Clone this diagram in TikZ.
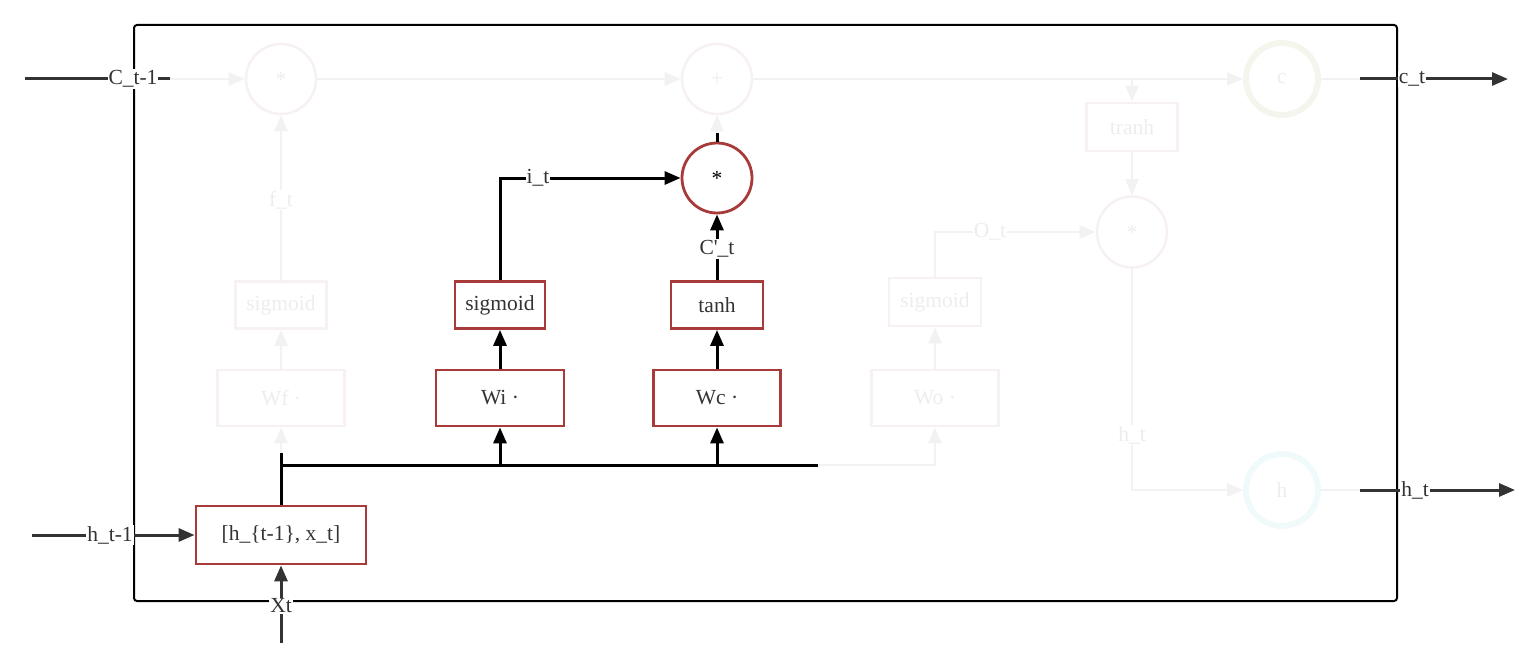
\documentclass[tikz,border=0pt]{standalone}
\usepackage{fontspec}
\setmainfont{Liberation Serif}[Ligatures=TeXOff]
\usetikzlibrary{arrows.meta,shapes.geometric}
\definecolor{boxred}{HTML}{A83A3A}
\definecolor{txt}{HTML}{333333}
\definecolor{dark}{HTML}{333333}
\definecolor{fade}{HTML}{F2F2F2}
\definecolor{fadep}{HTML}{F7F1F1}
\definecolor{fadetxt}{HTML}{EDEDED}
\definecolor{cfade}{HTML}{F4F6EE}
\definecolor{hfade}{HTML}{F1FAFA}
\tikzset{
  base/.style={font=\fontsize{21.5}{25}\selectfont, inner sep=0pt},
  rbox/.style={base, draw=boxred, line width=2.8pt, text=txt},
  fbox/.style={base, draw=fadep, line width=2.8pt, text=fadetxt},
  rcirc/.style={base, circle, draw=boxred, line width=2.8pt, minimum size=70pt, text=black},
  fcirc/.style={base, ellipse, draw=fadep, line width=2.6pt, text=fadetxt},
  lbl/.style={base, fill=white, inner sep=1pt, text=txt},
  flbl/.style={base, fill=white, inner sep=1pt, text=fadetxt},
  tip/.style={-{Triangle[length=16pt,width=13pt]}},
  bl/.style={line width=3pt, black},
  blarr/.style={bl, tip},
  dk/.style={line width=3pt, dark},
  dkarr/.style={dk, tip},
  fl/.style={line width=2.6pt, fade},
  flarr/.style={fl, tip},
}
\begin{document}
\begin{tikzpicture}[x=1pt,y=-1pt]
\useasboundingbox (0,0) rectangle (1535,669);
% outer frame
\draw[line width=2pt, black, rounded corners=3pt] (134,25) rectangle (1397,601);

% faded nodes
\node[fcirc, minimum width=70pt, minimum height=70pt] (mulf) at (281,79) {*};
\node[fcirc, minimum width=70pt, minimum height=70pt] (plus) at (717,79) {+};
\node[base, ellipse, draw=cfade, line width=6pt, minimum width=72pt, minimum height=72pt, text=fadetxt] (cc) at (1282,79) {c};
\node[base, ellipse, draw=hfade, line width=6pt, minimum width=72pt, minimum height=72pt, text=fadetxt] (hh) at (1282,490) {h};
\node[fbox, minimum width=91pt, minimum height=48pt] (tranh) at (1132,127) {tranh};
\node[fcirc, minimum width=70pt, minimum height=71pt] (mulo) at (1132,232) {*};
\node[fbox, minimum width=91pt, minimum height=47pt] (sigf) at (281,305) {sigmoid};
\node[fbox, minimum width=127pt, minimum height=56pt] (wf) at (281,398) {Wf ·};
\node[fbox, minimum width=92pt, minimum height=48pt] (sigo) at (935,302) {sigmoid};
\node[fbox, minimum width=127pt, minimum height=56pt] (wo) at (935,398) {Wo ·};

% red nodes
\node[rbox, minimum width=128pt, minimum height=56pt] (wi) at (500,398) {Wi ·};
\node[rbox, minimum width=90pt, minimum height=47pt] (sigi) at (500,305) {sigmoid};
\node[rbox, minimum width=92pt, minimum height=47pt] (tanh) at (717,305) {tanh};
\node[rbox, minimum width=127pt, minimum height=56pt] (wc) at (717,398) {Wc ·};
\node[rcirc] (muli) at (717,178) {*};
\node[rbox, minimum width=170pt, minimum height=58pt] (cat) at (281,535) {[h\_\{t-1\}, x\_t]};

% coordinates
\coordinate (cin) at (25,79);
\coordinate (cinb) at (170,79);
\coordinate (ctap) at (1132,79);
\coordinate (cfo) at (1360,79);
\coordinate (cend) at (1508,79);
\coordinate (hfo) at (1360,490);
\coordinate (hend) at (1515,490);
\coordinate (hcorner) at (1132,490);
\coordinate (hin) at (32,535);
\coordinate (xin) at (281,643);
\coordinate (stub) at (281,453);
\coordinate (busL) at (281,465);
\coordinate (busI) at (500,465);
\coordinate (busC) at (717,465);
\coordinate (busR) at (818,465);
\coordinate (busO) at (935,465);
\coordinate (mtop) at (717,133);

% faded connectors
\draw[flarr] (cinb) -- (mulf.west);
\draw[flarr] (mulf.east) -- (plus.west);
\draw[flarr] (plus.east) -- (cc.west);
\draw[flarr] (ctap) -- (tranh.north);
\draw[flarr] (tranh.south) -- (mulo.north);
\draw[flarr] (mulo.south) -- (hcorner) -- (hh.west);
\draw[fl] (cc.east) -- (cfo);
\draw[fl] (hh.east) -- (hfo);
\draw[flarr] (sigf.north) -- (mulf.south);
\draw[flarr] (wf.north) -- (sigf.south);
\draw[flarr] (stub) -- (wf.south);
\draw[flarr] (busR) -- (busO) -- (wo.south);
\draw[flarr] (wo.north) -- (sigo.south);
\draw[flarr] (sigo.north) |- (mulo.west);
\draw[flarr] (mtop) -- (plus.south);
\node[flbl] (ftl) at (281,200) {f\_t};
\node[flbl] (otl) at (990,232) {O\_t};
\node[flbl] (htl) at (1132,435) {h\_t};

% black connectors
\draw[bl] (cat.north) -- (stub);
\draw[bl] (busL) -- (busR);
\draw[blarr] (busI) -- (wi.south);
\draw[blarr] (busC) -- (wc.south);
\draw[blarr] (wi.north) -- (sigi.south);
\draw[blarr] (wc.north) -- (tanh.south);
\draw[blarr] (sigi.north) |- (muli.west);
\draw[blarr] (tanh.north) -- (muli.south);
\draw[bl] (muli.north) -- (mtop);
\node[lbl] (itl) at (538,178) {i\_t};
\node[lbl] (ctl) at (717,249) {C'\_t};

% outer inputs/outputs
\draw[dk] (cin) -- (cinb);
\node[lbl] (cinl) at (133,79) {C\_t-1};
\draw[dkarr] (cfo) -- (cend);
\node[lbl] (coutl) at (1412,79) {c\_t};
\draw[dkarr] (hfo) -- (hend);
\node[lbl] (houtl) at (1415,490) {h\_t};
\draw[dkarr] (hin) -- (cat.west);
\node[lbl] (hinl) at (110,535) {h\_t-1};
\draw[dkarr] (xin) -- (cat.south);
\node[lbl] (xtl) at (281,606) {Xt};
\end{tikzpicture}
\end{document}
